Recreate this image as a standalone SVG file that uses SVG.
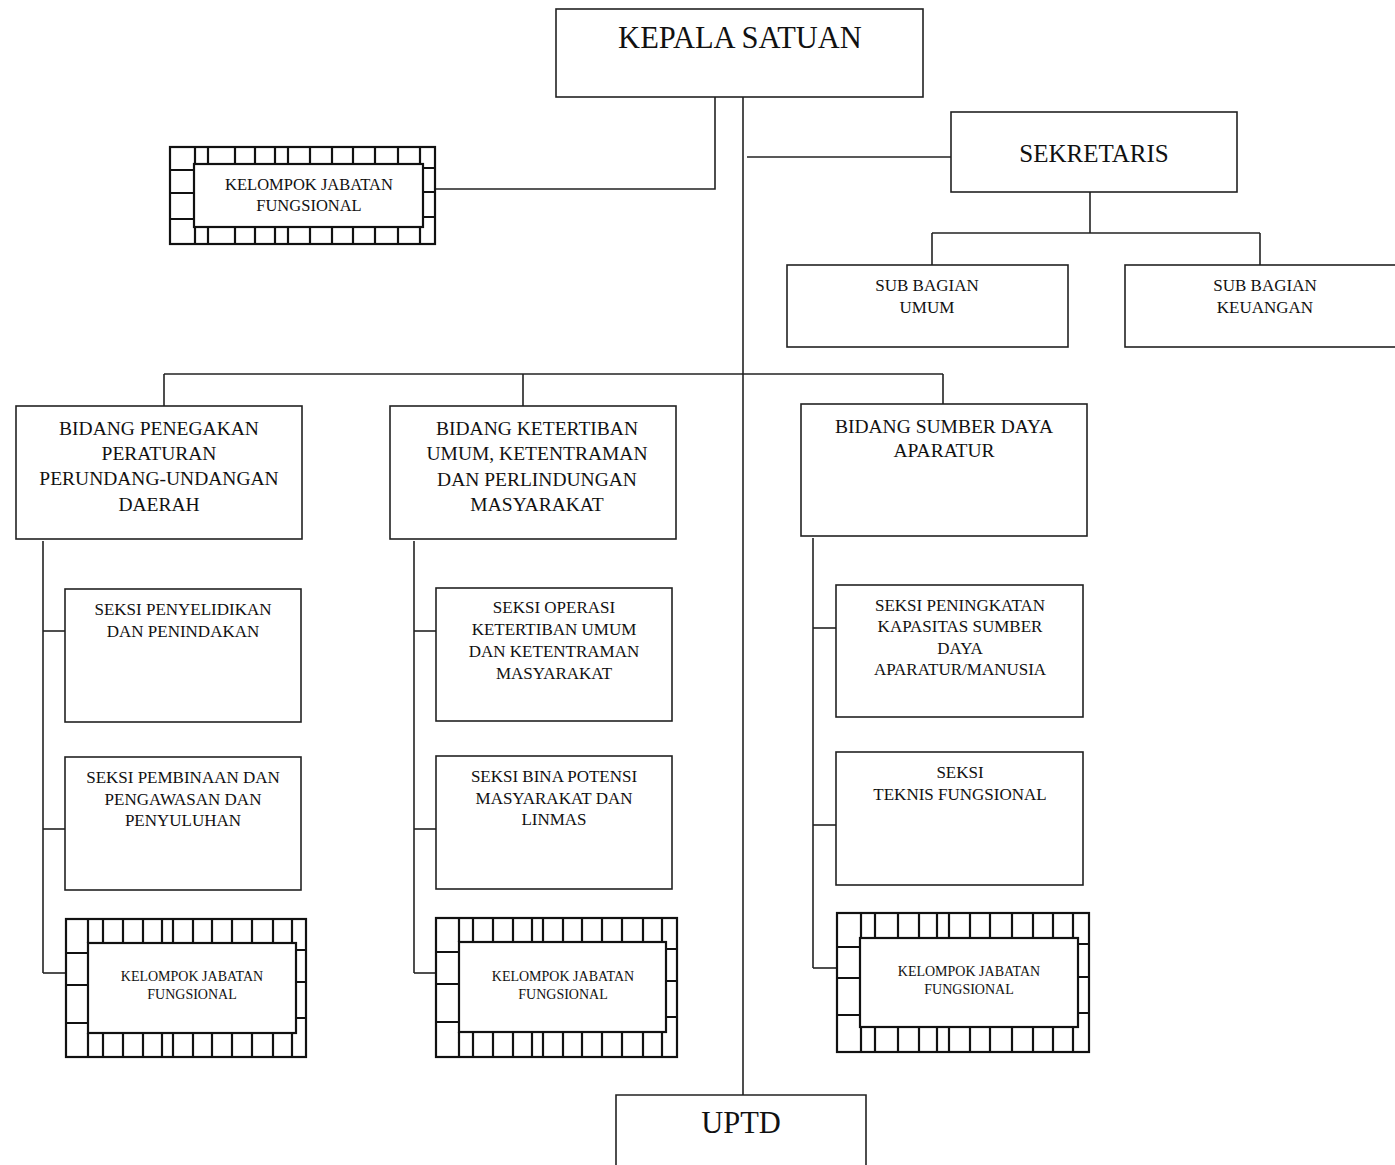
<svg xmlns="http://www.w3.org/2000/svg" width="1395" height="1165" viewBox="0 0 1395 1165">
<style>
.box{fill:#fff;stroke:#222;stroke-width:1.6}
.hb{fill:#fff;stroke:#111;stroke-width:2.2}
.hl{stroke:#111;stroke-width:2.2;fill:none}
.ln{stroke:#222;stroke-width:1.6;fill:none}
text{font-family:"Liberation Serif","Times New Roman",serif;fill:#111;text-anchor:middle}
.t30{font-size:30.5px}
.t25{font-size:25px}
.t19{font-size:19.5px}
.t17{font-size:17px}
.t14{font-size:14px}
.t16{font-size:16.5px}
</style>
<rect width="1395" height="1165" fill="#fff"/>
<g id="connectors">
<polyline class="ln" points="715,97 715,189 434,189"/>
<line class="ln" x1="743" y1="97" x2="743" y2="1095"/>
<line class="ln" x1="747" y1="157" x2="951" y2="157"/>
<line class="ln" x1="1090" y1="192" x2="1090" y2="233"/>
<line class="ln" x1="932" y1="233" x2="1260" y2="233"/>
<line class="ln" x1="932" y1="233" x2="932" y2="265"/>
<line class="ln" x1="1260" y1="233" x2="1260" y2="265"/>
<line class="ln" x1="164" y1="374" x2="943" y2="374"/>
<line class="ln" x1="164" y1="374" x2="164" y2="406"/>
<line class="ln" x1="523" y1="374" x2="523" y2="406"/>
<line class="ln" x1="943" y1="374" x2="943" y2="404"/>
<line class="ln" x1="43" y1="541" x2="43" y2="973"/>
<line class="ln" x1="43" y1="631" x2="65" y2="631"/>
<line class="ln" x1="43" y1="829" x2="65" y2="829"/>
<line class="ln" x1="43" y1="973" x2="66" y2="973"/>
<line class="ln" x1="414" y1="541" x2="414" y2="973"/>
<line class="ln" x1="414" y1="631" x2="436" y2="631"/>
<line class="ln" x1="414" y1="829" x2="436" y2="829"/>
<line class="ln" x1="414" y1="973" x2="436" y2="973"/>
<line class="ln" x1="813" y1="538" x2="813" y2="968"/>
<line class="ln" x1="813" y1="628" x2="836" y2="628"/>
<line class="ln" x1="813" y1="825" x2="836" y2="825"/>
<line class="ln" x1="813" y1="968" x2="837" y2="968"/>
</g>
<g id="kepala">
<rect class="box" x="556" y="9" width="367" height="88"/>
<text class="t30" x="740" y="48">KEPALA SATUAN</text>
</g>
<g id="kjf-top">
<rect class="hb" x="170" y="147" width="265" height="97"/>
<path class="hl" d="M195,147V164M208,147V164M235,147V164M255,147V164M275,147V164M288,147V164M310,147V164M332,147V164M353,147V164M375,147V164M398,147V164M420,147V164M195,227V244M208,227V244M235,227V244M255,227V244M275,227V244M288,227V244M310,227V244M332,227V244M353,227V244M375,227V244M398,227V244M420,227V244M170,170H194M170,193H194M170,219H194M423,168H435M423,192H435M423,217H435"/>
<rect class="hb" x="194" y="164" width="229" height="63"/>
<text class="t16" x="309" y="190">KELOMPOK JABATAN</text>
<text class="t16" x="309" y="211">FUNGSIONAL</text>
</g>
<g id="sekretaris">
<rect class="box" x="951" y="112" width="286" height="80"/>
<text class="t25" x="1094" y="162">SEKRETARIS</text>
</g>
<g id="subbag-umum">
<rect class="box" x="787" y="265" width="281" height="82"/>
<text class="t17" x="927" y="291">SUB BAGIAN</text>
<text class="t17" x="927" y="313">UMUM</text>
</g>
<g id="subbag-keuangan">
<rect class="box" x="1125" y="265" width="272" height="82"/>
<text class="t17" x="1265" y="291">SUB BAGIAN</text>
<text class="t17" x="1265" y="313">KEUANGAN</text>
</g>
<g id="bidang-penegakan">
<rect class="box" x="16" y="406" width="286" height="133"/>
<text class="t19" x="159" y="435">BIDANG PENEGAKAN</text>
<text class="t19" x="159" y="460">PERATURAN</text>
<text class="t19" x="159" y="485">PERUNDANG-UNDANGAN</text>
<text class="t19" x="159" y="511">DAERAH</text>
</g>
<g id="bidang-ketertiban">
<rect class="box" x="390" y="406" width="286" height="133"/>
<text class="t19" x="537" y="435">BIDANG KETERTIBAN</text>
<text class="t19" x="537" y="460">UMUM, KETENTRAMAN</text>
<text class="t19" x="537" y="486">DAN PERLINDUNGAN</text>
<text class="t19" x="537" y="511">MASYARAKAT</text>
</g>
<g id="bidang-sda">
<rect class="box" x="801" y="404" width="286" height="132"/>
<text class="t19" x="944" y="433">BIDANG SUMBER DAYA</text>
<text class="t19" x="944" y="457">APARATUR</text>
</g>
<g id="seksi-penyelidikan">
<rect class="box" x="65" y="589" width="236" height="133"/>
<text class="t17" x="183" y="615">SEKSI PENYELIDIKAN</text>
<text class="t17" x="183" y="637">DAN PENINDAKAN</text>
</g>
<g id="seksi-pembinaan">
<rect class="box" x="65" y="757" width="236" height="133"/>
<text class="t17" x="183" y="783">SEKSI PEMBINAAN DAN</text>
<text class="t17" x="183" y="805">PENGAWASAN DAN</text>
<text class="t17" x="183" y="826">PENYULUHAN</text>
</g>
<g id="kjf-1">
<rect class="hb" x="66" y="919" width="240" height="138"/>
<path class="hl" d="M88,919V943M103,919V943M123,919V943M143,919V943M162,919V943M173,919V943M193,919V943M212,919V943M232,919V943M252,919V943M273,919V943M292,919V943M88,1033V1057M103,1033V1057M123,1033V1057M143,1033V1057M162,1033V1057M173,1033V1057M193,1033V1057M212,1033V1057M232,1033V1057M252,1033V1057M273,1033V1057M292,1033V1057M66,953H88M66,985H88M66,1023H88M296,950H306M296,982H306M296,1018H306"/>
<rect class="hb" x="88" y="943" width="208" height="90"/>
<text class="t14" x="192" y="981">KELOMPOK JABATAN</text>
<text class="t14" x="192" y="999">FUNGSIONAL</text>
</g>
<g id="seksi-operasi">
<rect class="box" x="436" y="588" width="236" height="133"/>
<text class="t17" x="554" y="613">SEKSI OPERASI</text>
<text class="t17" x="554" y="635">KETERTIBAN UMUM</text>
<text class="t17" x="554" y="657">DAN KETENTRAMAN</text>
<text class="t17" x="554" y="679">MASYARAKAT</text>
</g>
<g id="seksi-bina">
<rect class="box" x="436" y="756" width="236" height="133"/>
<text class="t17" x="554" y="782">SEKSI BINA POTENSI</text>
<text class="t17" x="554" y="804">MASYARAKAT DAN</text>
<text class="t17" x="554" y="825">LINMAS</text>
</g>
<g id="kjf-2">
<rect class="hb" x="436" y="918" width="241" height="139"/>
<path class="hl" d="M459,918V942M473,918V942M493,918V942M513,918V942M532,918V942M543,918V942M563,918V942M582,918V942M602,918V942M622,918V942M643,918V942M662,918V942M459,1032V1057M473,1032V1057M493,1032V1057M513,1032V1057M532,1032V1057M543,1032V1057M563,1032V1057M582,1032V1057M602,1032V1057M622,1032V1057M643,1032V1057M662,1032V1057M436,952H459M436,984H459M436,1022H459M666,949H677M666,981H677M666,1017H677"/>
<rect class="hb" x="459" y="942" width="207" height="90"/>
<text class="t14" x="563" y="981">KELOMPOK JABATAN</text>
<text class="t14" x="563" y="999">FUNGSIONAL</text>
</g>
<g id="seksi-peningkatan">
<rect class="box" x="836" y="585" width="247" height="132"/>
<text class="t17" x="960" y="611">SEKSI PENINGKATAN</text>
<text class="t17" x="960" y="632">KAPASITAS SUMBER</text>
<text class="t17" x="960" y="654">DAYA</text>
<text class="t17" x="960" y="675">APARATUR/MANUSIA</text>
</g>
<g id="seksi-teknis">
<rect class="box" x="836" y="752" width="247" height="133"/>
<text class="t17" x="960" y="778">SEKSI</text>
<text class="t17" x="960" y="800">TEKNIS FUNGSIONAL</text>
</g>
<g id="kjf-3">
<rect class="hb" x="837" y="913" width="252" height="139"/>
<path class="hl" d="M861,913V938M875,913V938M898,913V938M919,913V938M937,913V938M949,913V938M970,913V938M990,913V938M1012,913V938M1033,913V938M1053,913V938M1073,913V938M861,1027V1052M875,1027V1052M898,1027V1052M919,1027V1052M937,1027V1052M949,1027V1052M970,1027V1052M990,1027V1052M1012,1027V1052M1033,1027V1052M1053,1027V1052M1073,1027V1052M837,947H860M837,978H860M837,1015H860M1078,944H1089M1078,977H1089M1078,1013H1089"/>
<rect class="hb" x="860" y="938" width="218" height="89"/>
<text class="t14" x="969" y="976">KELOMPOK JABATAN</text>
<text class="t14" x="969" y="994">FUNGSIONAL</text>
</g>
<g id="uptd">
<path class="box" d="M616,1166V1095H866V1166"/>
<text class="t30" x="741" y="1133">UPTD</text>
</g>
</svg>
